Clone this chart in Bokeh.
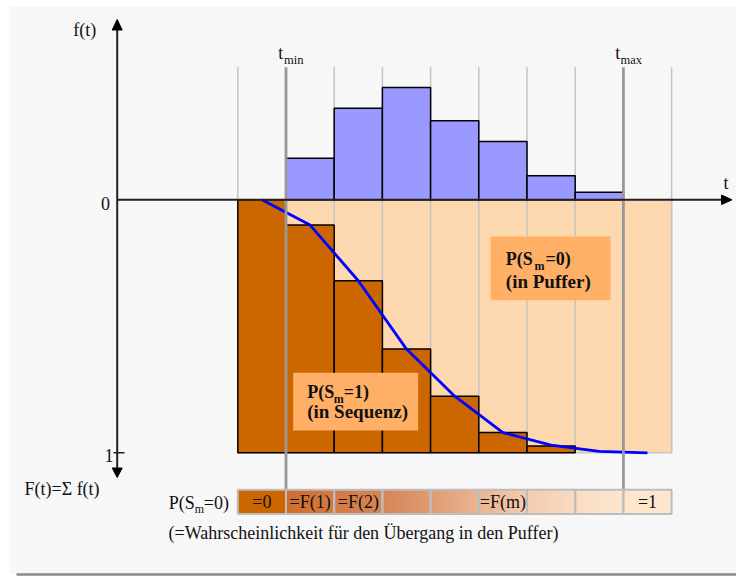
import numpy as np
from bokeh.plotting import figure
from bokeh.models import Range1d
from bokeh.core.properties import value
from bokeh.embed import file_html
from bokeh.resources import INLINE

# ---------------- data ----------------
t_bins_f = [1, 2, 3, 4, 5, 6, 7]                       # bins between t_min and t_max
f_vals = [0.100, 0.220, 0.270, 0.190, 0.140, 0.058, 0.018]
t_bins_F = [0, 1, 2, 3, 4, 5, 6]
F_vals = [0.000, 0.100, 0.320, 0.590, 0.776, 0.920, 0.973]
curve_t = [0.5, 1.5, 2.5, 3.5, 4.5, 5.5, 6.5, 7.5, 8.5]
curve_F = [0.000, 0.100, 0.320, 0.590, 0.776, 0.920, 0.970, 0.994, 1.000]
grid_edges = [0, 1, 2, 3, 4, 5, 6, 7, 8, 9]
t_min, t_max = 1, 8
strip_bins = [0, 1, 2, 3, 4, 5, 6, 7, 8]
strip_labels = ["=0", "=F(1)", "=F(2)", "", "", "=F(m)", "", "", "=1"]

# ---------------- layout (page pixels) ----------------
W, H = 736, 576
OX, OY = 0, 0
X0, DX = 237.3, 48.2        # page x of bin edge 0, px per bin
Y0, FY, fY = 199.3, 253.0, 416.0

def tx(xp):
    return (xp - X0) / DX

def Fy(yp):
    return (yp - Y0) / FY

p = figure(width=W, height=H, output_backend="svg", toolbar_location=None,
           x_range=Range1d(tx(OX), tx(OX + W)),
           y_range=Range1d(Fy(OY + H), Fy(OY)),
           x_axis_type=None, y_axis_type=None, min_border=0,
           background_fill_color="white", border_fill_color="white",
           outline_line_color=None)
p.grid.visible = False
p.extra_y_ranges = {"f": Range1d((Y0 - (OY + H)) / fY, (Y0 - OY) / fY)}

FONT = value("Liberation Serif")

# page background panel
p.quad(left=[tx(9)], right=[tx(740)], top=[Fy(6)], bottom=[Fy(573)],
       fill_color="#f7f7f7", line_color=None)

# peach area (P(S_m=0))
p.quad(left=[grid_edges[0]], right=[grid_edges[-1]], top=[0], bottom=[1],
       fill_color="#fdd7ae", line_color="#c8c8c8", line_width=1.5)

# light grid lines
light = [e for e in grid_edges if e not in (t_min, t_max)]
p.segment(x0=light, y0=[Fy(66.7)] * len(light), x1=light, y1=[1] * len(light),
          line_color="#c4c4c4", line_width=1.5)

# f(t) histogram
p.quad(left=t_bins_f, right=[b + 1 for b in t_bins_f], bottom=0, top=f_vals,
       y_range_name="f", fill_color="#9999ff", line_color="black", line_width=1.5)

# 1-F bars (P(S_m=1))
p.quad(left=t_bins_F, right=[b + 1 for b in t_bins_F], top=F_vals, bottom=1,
       fill_color="#cc6600", line_color="black", line_width=1.5)

# F curve
p.line(curve_t, curve_F, line_color="#0000ff", line_width=2.8)

# t_min / t_max lines
p.segment(x0=[t_min, t_max], y0=[Fy(66.7)] * 2, x1=[t_min, t_max], y1=[Fy(489.5)] * 2,
          line_color="#999999", line_width=2.8)

# axes
AX = tx(116.7)
p.segment(x0=[AX], y0=[Fy(28)], x1=[AX], y1=[Fy(469)], line_color="#222222", line_width=2)
p.segment(x0=[AX], y0=[0], x1=[tx(722)], y1=[0], line_color="#222222", line_width=2)
p.segment(x0=[tx(113)], y0=[1], x1=[tx(124)], y1=[1], line_color="#222222", line_width=1.5)
# arrow heads
p.patch([tx(111.7), tx(116.7), tx(121.7)], [Fy(29.5), Fy(19), Fy(29.5)], color="black")
p.patch([tx(111.7), tx(116.7), tx(121.7)], [Fy(467.5), Fy(477), Fy(467.5)], color="black")
p.patch([tx(721), tx(731.5), tx(721)], [Fy(194.5), Fy(199.3), Fy(204.1)], color="black")

# bottom strip with gradient
stops_x = [285.7, 333.7, 381.7, 430.0, 478.5, 526.7, 574.7, 622.7]
stops_c = [(207, 110, 45), (211, 122, 68), (214, 133, 88), (223, 155, 115),
           (234, 180, 145), (244, 203, 175), (250, 220, 196), (253, 229, 207)]
sy0, sy1 = Fy(489.3), Fy(513.5)
lefts, rights, cols = [], [], []
N = 12
for b in strip_bins[1:8]:
    for i in range(N):
        l = b + i / N
        r = b + (i + 1) / N
        xp = X0 + (l + 0.5 / N) * DX
        c = [int(round(np.interp(xp, stops_x, [s[k] for s in stops_c]))) for k in range(3)]
        lefts.append(l)
        rights.append(r)
        cols.append("#%02x%02x%02x" % tuple(c))
p.quad(left=[0], right=[1], top=[sy0], bottom=[sy1], fill_color="#cc6600", line_color=None)
p.quad(left=lefts, right=rights, top=sy0, bottom=sy1, fill_color=cols,
       line_color=cols, line_width=1.2)
p.quad(left=[8], right=[9], top=[sy0], bottom=[sy1], fill_color="#fde6cd", line_color=None)
p.quad(left=strip_bins, right=[b + 1 for b in strip_bins], top=sy0, bottom=sy1,
       fill_color=None, line_color="#bdbdbd", line_width=2)
p.text(x=[b + 0.5 for b in strip_bins], y=[Fy(501.5)] * len(strip_bins), text=strip_labels,
       text_font=FONT, text_font_size="18px", text_align="center", text_baseline="middle",
       text_color="#111111")

# label boxes
p.quad(left=[tx(490)], right=[tx(610)], top=[Fy(236)], bottom=[Fy(299.7)],
       fill_color="#ffb066", line_color=None)
p.quad(left=[tx(292.7)], right=[tx(417.7)], top=[Fy(372.3)], bottom=[Fy(430)],
       fill_color="#ffb066", line_color=None)


def lab(xp, yp, s, size="18px", align="left", bold=False):
    kw = {"text_font_style": "bold"} if bold else {}
    p.text(x=[tx(xp)], y=[Fy(yp)], text=[s], text_font=FONT, text_font_size=size,
           text_align=align, text_baseline="middle", text_color="#111111", **kw)


# box texts
lab(505.3, 258.3, "P(S", bold=True)
lab(534.0, 265.5, "m", size="12px", bold=True)
lab(545.0, 258.3, "=0)", bold=True)
lab(505.3, 280.5, "(in Puffer)", size="19px", bold=True)
lab(306.7, 391.0, "P(S", bold=True)
lab(333.3, 398.0, "m", size="12px", bold=True)
lab(343.3, 391.0, "=1)", bold=True)
lab(306.7, 411.0, "(in Sequenz)", size="19px", bold=True)

# axis texts
lab(72.7, 29.0, "f(t)")
lab(109.5, 202.7, "0", align="right")
lab(113.0, 454.7, "1", align="right")
lab(24.0, 488.0, "F(t)=\u03a3 f(t)")
lab(723.0, 182.5, "t")
lab(277.7, 52.5, "t")
lab(283.5, 59.0, "min", size="12.5px")
lab(614.7, 52.5, "t")
lab(620.0, 59.5, "max", size="12.5px")

# strip texts
lab(168.3, 502.0, "P(S")
lab(194.3, 508.5, "m", size="12px")
lab(203.3, 502.0, "=0)")
lab(168.0, 532.5, "(=Wahrscheinlichkeit f\u00fcr den \u00dcbergang in den Puffer)")

# bottom rule
p.segment(x0=[tx(16)], y0=[Fy(574)], x1=[tx(740)], y1=[Fy(574)],
          line_color="#8a8a8a", line_width=2.5)

open("out.html", "w").write(file_html(p, INLINE))
